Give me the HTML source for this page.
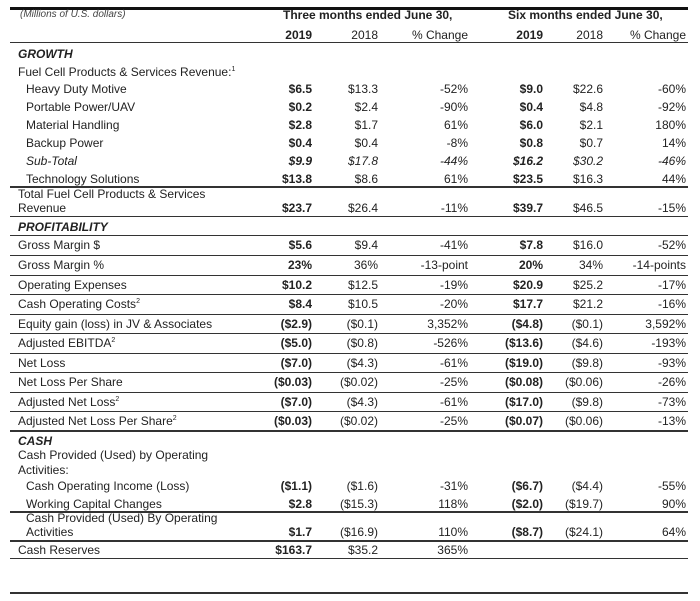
<!DOCTYPE html>
<html><head><meta charset="utf-8"><style>
body{margin:0;width:700px;height:601px;background:#fff;position:relative;overflow:hidden;font-family:"Liberation Sans","DejaVu Sans",sans-serif;font-size:12px;color:#222}
.r{position:absolute;left:0;width:700px;height:14px;line-height:14px}
.r span{position:absolute;white-space:nowrap}
.l{left:18px}.i{left:26px}
.c1{right:388px;font-weight:bold}.c2{right:322px}.c3{right:232px}.c4{right:157px;font-weight:bold}.c5{right:97px}.c6{right:14px}
.h{position:absolute;left:10px;width:678px;border-top:1px solid #333}
.b{font-weight:bold}.it{font-style:italic}
sup{font-size:7px;line-height:0}
</style></head><body>
<div class="h" style="top:7px;border-top:3px solid #111"></div>
<div class="r" style="top:8px"><span class="it" style="left:20px;font-size:10px;color:#444">(Millions of U.S. dollars)</span><span class="b" style="left:283px">Three months ended June 30,</span><span class="b" style="left:508px">Six months ended June 30,</span></div>
<div class="r" style="top:28px"><span class="c1">2019</span><span class="c2">2018</span><span class="c3">% Change</span><span class="c4">2019</span><span class="c5">2018</span><span class="c6">% Change</span></div>
<div class="h" style="top:42px"></div>
<div class="r" style="top:47px"><span class="l b it">GROWTH</span></div>
<div class="r" style="top:65px"><span class="l">Fuel Cell Products &amp; Services Revenue:<sup>1</sup></span></div>
<div class="r" style="top:82px"><span class="i">Heavy Duty Motive</span><span class="c1">$6.5</span><span class="c2">$13.3</span><span class="c3">-52%</span><span class="c4">$9.0</span><span class="c5">$22.6</span><span class="c6">-60%</span></div>
<div class="r" style="top:100px"><span class="i">Portable Power/UAV</span><span class="c1">$0.2</span><span class="c2">$2.4</span><span class="c3">-90%</span><span class="c4">$0.4</span><span class="c5">$4.8</span><span class="c6">-92%</span></div>
<div class="r" style="top:118px"><span class="i">Material Handling</span><span class="c1">$2.8</span><span class="c2">$1.7</span><span class="c3">61%</span><span class="c4">$6.0</span><span class="c5">$2.1</span><span class="c6">180%</span></div>
<div class="r" style="top:136px"><span class="i">Backup Power</span><span class="c1">$0.4</span><span class="c2">$0.4</span><span class="c3">-8%</span><span class="c4">$0.8</span><span class="c5">$0.7</span><span class="c6">14%</span></div>
<div class="r it" style="top:154px"><span class="i">Sub-Total</span><span class="c1">$9.9</span><span class="c2">$17.8</span><span class="c3">-44%</span><span class="c4">$16.2</span><span class="c5">$30.2</span><span class="c6">-46%</span></div>
<div class="r" style="top:172px"><span class="i">Technology Solutions</span><span class="c1">$13.8</span><span class="c2">$8.6</span><span class="c3">61%</span><span class="c4">$23.5</span><span class="c5">$16.3</span><span class="c6">44%</span></div>
<div class="h" style="top:186px;border-top:2px solid #333"></div>
<div class="r" style="top:187px"><span class="l">Total Fuel Cell Products &amp; Services</span></div>
<div class="r" style="top:201px"><span class="l">Revenue</span><span class="c1">$23.7</span><span class="c2">$26.4</span><span class="c3">-11%</span><span class="c4">$39.7</span><span class="c5">$46.5</span><span class="c6">-15%</span></div>
<div class="h" style="top:216px"></div>
<div class="r" style="top:220px"><span class="l b it">PROFITABILITY</span></div>
<div class="h" style="top:235px"></div>
<div class="r" style="top:238px"><span class="l">Gross Margin $</span><span class="c1">$5.6</span><span class="c2">$9.4</span><span class="c3">-41%</span><span class="c4">$7.8</span><span class="c5">$16.0</span><span class="c6">-52%</span></div>
<div class="h" style="top:255px"></div>
<div class="r" style="top:258px"><span class="l">Gross Margin %</span><span class="c1">23%</span><span class="c2">36%</span><span class="c3">-13-point</span><span class="c4">20%</span><span class="c5">34%</span><span class="c6">-14-points</span></div>
<div class="h" style="top:275px"></div>
<div class="r" style="top:278px"><span class="l">Operating Expenses</span><span class="c1">$10.2</span><span class="c2">$12.5</span><span class="c3">-19%</span><span class="c4">$20.9</span><span class="c5">$25.2</span><span class="c6">-17%</span></div>
<div class="h" style="top:294px"></div>
<div class="r" style="top:297px"><span class="l">Cash Operating Costs<sup>2</sup></span><span class="c1">$8.4</span><span class="c2">$10.5</span><span class="c3">-20%</span><span class="c4">$17.7</span><span class="c5">$21.2</span><span class="c6">-16%</span></div>
<div class="h" style="top:314px"></div>
<div class="r" style="top:317px"><span class="l">Equity gain (loss) in JV &amp; Associates</span><span class="c1">($2.9)</span><span class="c2">($0.1)</span><span class="c3">3,352%</span><span class="c4">($4.8)</span><span class="c5">($0.1)</span><span class="c6">3,592%</span></div>
<div class="h" style="top:333px"></div>
<div class="r" style="top:336px"><span class="l">Adjusted EBITDA<sup>2</sup></span><span class="c1">($5.0)</span><span class="c2">($0.8)</span><span class="c3">-526%</span><span class="c4">($13.6)</span><span class="c5">($4.6)</span><span class="c6">-193%</span></div>
<div class="h" style="top:353px"></div>
<div class="r" style="top:356px"><span class="l">Net Loss</span><span class="c1">($7.0)</span><span class="c2">($4.3)</span><span class="c3">-61%</span><span class="c4">($19.0)</span><span class="c5">($9.8)</span><span class="c6">-93%</span></div>
<div class="h" style="top:372px"></div>
<div class="r" style="top:375px"><span class="l">Net Loss Per Share</span><span class="c1">($0.03)</span><span class="c2">($0.02)</span><span class="c3">-25%</span><span class="c4">($0.08)</span><span class="c5">($0.06)</span><span class="c6">-26%</span></div>
<div class="h" style="top:392px"></div>
<div class="r" style="top:395px"><span class="l">Adjusted Net Loss<sup>2</sup></span><span class="c1">($7.0)</span><span class="c2">($4.3)</span><span class="c3">-61%</span><span class="c4">($17.0)</span><span class="c5">($9.8)</span><span class="c6">-73%</span></div>
<div class="h" style="top:411px"></div>
<div class="r" style="top:414px"><span class="l">Adjusted Net Loss Per Share<sup>2</sup></span><span class="c1">($0.03)</span><span class="c2">($0.02)</span><span class="c3">-25%</span><span class="c4">($0.07)</span><span class="c5">($0.06)</span><span class="c6">-13%</span></div>
<div class="h" style="top:430px;border-top:2px solid #333"></div>
<div class="r" style="top:434px"><span class="l b it">CASH</span></div>
<div class="r" style="top:448px"><span class="l">Cash Provided (Used) by Operating</span></div>
<div class="r" style="top:463px"><span class="l">Activities:</span></div>
<div class="r" style="top:479px"><span class="i">Cash Operating Income (Loss)</span><span class="c1">($1.1)</span><span class="c2">($1.6)</span><span class="c3">-31%</span><span class="c4">($6.7)</span><span class="c5">($4.4)</span><span class="c6">-55%</span></div>
<div class="r" style="top:497px"><span class="i">Working Capital Changes</span><span class="c1">$2.8</span><span class="c2">($15.3)</span><span class="c3">118%</span><span class="c4">($2.0)</span><span class="c5">($19.7)</span><span class="c6">90%</span></div>
<div class="h" style="top:511px;border-top:2px solid #333"></div>
<div class="r" style="top:511px"><span class="i">Cash Provided (Used) By Operating</span></div>
<div class="r" style="top:525px"><span class="i">Activities</span><span class="c1">$1.7</span><span class="c2">($16.9)</span><span class="c3">110%</span><span class="c4">($8.7)</span><span class="c5">($24.1)</span><span class="c6">64%</span></div>
<div class="h" style="top:540px;border-top:2px solid #333"></div>
<div class="r" style="top:543px"><span class="l">Cash Reserves</span><span class="c1">$163.7</span><span class="c2">$35.2</span><span class="c3">365%</span></div>
<div class="h" style="top:558px"></div>
<div class="h" style="top:592px;border-top:2px solid #333"></div>
</body></html>
